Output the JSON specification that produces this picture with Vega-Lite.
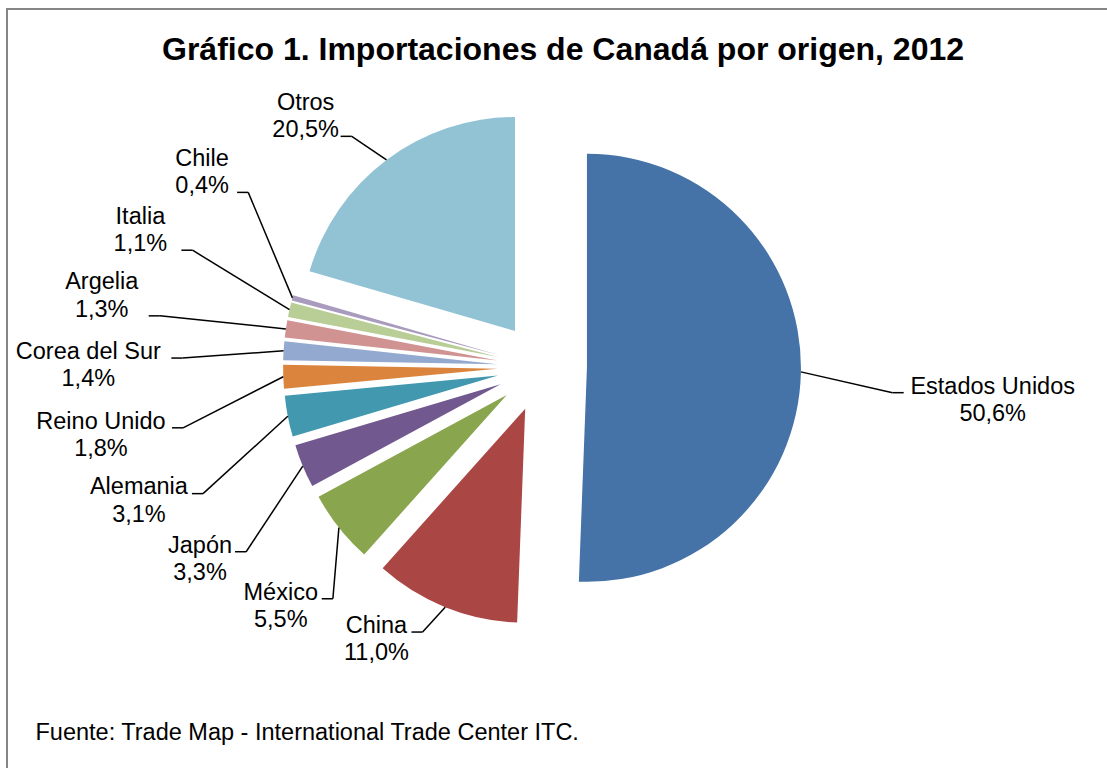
{
  "$schema": "https://vega.github.io/schema/vega-lite/v6.json",
  "width": 1102,
  "height": 762,
  "autosize": {"type": "none"},
  "padding": {"left": 7, "top": 9, "right": 0, "bottom": 0},
  "background": "white",
  "config": {
    "view": {"stroke": "#868686", "strokeWidth": 2},
    "font": "Liberation Sans"
  },
  "title": {
    "text": "Gráfico 1. Importaciones de Canadá por origen, 2012",
    "font": "Liberation Sans",
    "fontSize": 32,
    "fontWeight": "bold",
    "color": "#000000",
    "anchor": "middle",
    "baseline": "alphabetic",
    "offset": 0,
    "dy": 83,
    "dx": 5
  },
  "data": {
    "values": [
      {"pais": "Estados Unidos", "pct": 50.6, "orden": 0},
      {"pais": "China", "pct": 11.0, "orden": 1},
      {"pais": "México", "pct": 5.5, "orden": 2},
      {"pais": "Japón", "pct": 3.3, "orden": 3},
      {"pais": "Alemania", "pct": 3.1, "orden": 4},
      {"pais": "Reino Unido", "pct": 1.8, "orden": 5},
      {"pais": "Corea del Sur", "pct": 1.4, "orden": 6},
      {"pais": "Argelia", "pct": 1.3, "orden": 7},
      {"pais": "Italia", "pct": 1.1, "orden": 8},
      {"pais": "Chile", "pct": 0.4, "orden": 9},
      {"pais": "Otros", "pct": 20.5, "orden": 10}
    ]
  },
  "transform": [
    {"window": [{"op": "sum", "field": "pct", "as": "cum"}], "sort": [{"field": "orden", "order": "ascending"}], "frame": [null, 0]},
    {"calculate": "datum.cum / 100 * 2 * PI", "as": "a1"},
    {"calculate": "(datum.cum - datum.pct) / 100 * 2 * PI", "as": "a0"},
    {"calculate": "(datum.a0 + datum.a1) / 2", "as": "mid"},
    {"calculate": "0.21 * sin(datum.mid)", "as": "cx"},
    {"calculate": "0.21 * cos(datum.mid)", "as": "cy"},
    {"calculate": "1.21 * sin(datum.mid)", "as": "ex"},
    {"calculate": "1.21 * cos(datum.mid)", "as": "ey"},
    {"calculate": "replace(format(datum.pct, '.1f'), '.', ',') + '%'", "as": "pctTxt"},
    {"calculate": "datum.pais + '\\n' + datum.pctTxt", "as": "etiqueta"},
    {"calculate": "(datum.orden >= 1 && datum.orden <= 9) ? (201.4 + 13.76 * (datum.orden - 1)) * PI / 180 : datum.mid + 5.5 * PI / 180", "as": "phi"},
    {"calculate": "2.12 * sin(datum.phi)", "as": "lx"},
    {"calculate": "1.37 * cos(datum.phi) + 0.033", "as": "b1"},
    {"calculate": "datum.b1 - 0.1285", "as": "b2"},
    {"calculate": "datum.lx < 0 ? 1 : -1", "as": "side"},
    {"calculate": "(6 * max(length(datum.pais), length(datum.pctTxt)) + 5) / 214", "as": "hw"},
    {"calculate": "datum.lx + datum.side * datum.hw", "as": "axx"},
    {"calculate": "datum.axx + datum.side * 0.052", "as": "tkx"},
    {"calculate": "clamp(datum.ey, datum.b2, datum.b1) + 0.004", "as": "ay"}
  ],
  "layer": [
    {
      "mark": {"type": "arc", "radius": 214, "stroke": null},
      "encoding": {
        "x": {"field": "cx", "type": "quantitative", "scale": {"domain": [-1, 1], "range": [321, 749], "nice": false, "zero": false},
              "axis": {"title": "Fuente: Trade Map - International Trade Center ITC.", "domain": false, "ticks": false, "labels": false, "grid": false, "titleX": 28, "titleY": -32, "titleAlign": "left", "titleAnchor": "start", "titleBaseline": "alphabetic", "titleFont": "Liberation Sans", "titleFontSize": 23.5, "titleFontWeight": "normal", "titleColor": "#000000"}},
        "y": {"field": "cy", "type": "quantitative", "scale": {"domain": [-1, 1], "range": [572, 144], "nice": false, "zero": false}, "axis": null},
        "theta": {"field": "a0", "type": "quantitative", "scale": null, "stack": null},
        "theta2": {"field": "a1"},
        "color": {
          "field": "pais", "type": "nominal", "legend": null,
          "scale": {
            "domain": ["Estados Unidos", "China", "México", "Japón", "Alemania", "Reino Unido", "Corea del Sur", "Argelia", "Italia", "Chile", "Otros"],
            "range": ["#4572A7", "#AA4643", "#89A54E", "#71588F", "#4198AF", "#DB843D", "#93A9CF", "#D19392", "#B9CD96", "#A99BBD", "#92C3D4"]
          }
        }
      }
    },
    {
      "mark": {"type": "rule", "color": "#000000", "strokeWidth": 1.5},
      "encoding": {
        "x": {"field": "ex", "type": "quantitative", "scale": {"domain": [-1, 1], "range": [321, 749], "nice": false, "zero": false},
              "axis": {"title": "Fuente: Trade Map - International Trade Center ITC.", "domain": false, "ticks": false, "labels": false, "grid": false, "titleX": 28, "titleY": -32, "titleAlign": "left", "titleAnchor": "start", "titleBaseline": "alphabetic", "titleFont": "Liberation Sans", "titleFontSize": 23.5, "titleFontWeight": "normal", "titleColor": "#000000"}},
        "y": {"field": "ey", "type": "quantitative", "scale": {"domain": [-1, 1], "range": [572, 144], "nice": false, "zero": false}, "axis": null},
        "x2": {"field": "tkx"},
        "y2": {"field": "ay"}
      }
    },
    {
      "mark": {"type": "rule", "color": "#000000", "strokeWidth": 1.5},
      "encoding": {
        "x": {"field": "tkx", "type": "quantitative", "scale": {"domain": [-1, 1], "range": [321, 749], "nice": false, "zero": false},
              "axis": {"title": "Fuente: Trade Map - International Trade Center ITC.", "domain": false, "ticks": false, "labels": false, "grid": false, "titleX": 28, "titleY": -32, "titleAlign": "left", "titleAnchor": "start", "titleBaseline": "alphabetic", "titleFont": "Liberation Sans", "titleFontSize": 23.5, "titleFontWeight": "normal", "titleColor": "#000000"}},
        "y": {"field": "ay", "type": "quantitative", "scale": {"domain": [-1, 1], "range": [572, 144], "nice": false, "zero": false}, "axis": null},
        "x2": {"field": "axx"},
        "y2": {"field": "ay"}
      }
    },
    {
      "mark": {"type": "text", "font": "Liberation Sans", "fontSize": 23.5, "color": "#000000", "align": "center", "baseline": "alphabetic", "lineBreak": "\n", "lineHeight": 27.5},
      "encoding": {
        "x": {"field": "lx", "type": "quantitative", "scale": {"domain": [-1, 1], "range": [321, 749], "nice": false, "zero": false},
              "axis": {"title": "Fuente: Trade Map - International Trade Center ITC.", "domain": false, "ticks": false, "labels": false, "grid": false, "titleX": 28, "titleY": -32, "titleAlign": "left", "titleAnchor": "start", "titleBaseline": "alphabetic", "titleFont": "Liberation Sans", "titleFontSize": 23.5, "titleFontWeight": "normal", "titleColor": "#000000"}},
        "y": {"field": "b1", "type": "quantitative", "scale": {"domain": [-1, 1], "range": [572, 144], "nice": false, "zero": false}, "axis": null},
        "text": {"field": "etiqueta"}
      }
    }
  ]
}
